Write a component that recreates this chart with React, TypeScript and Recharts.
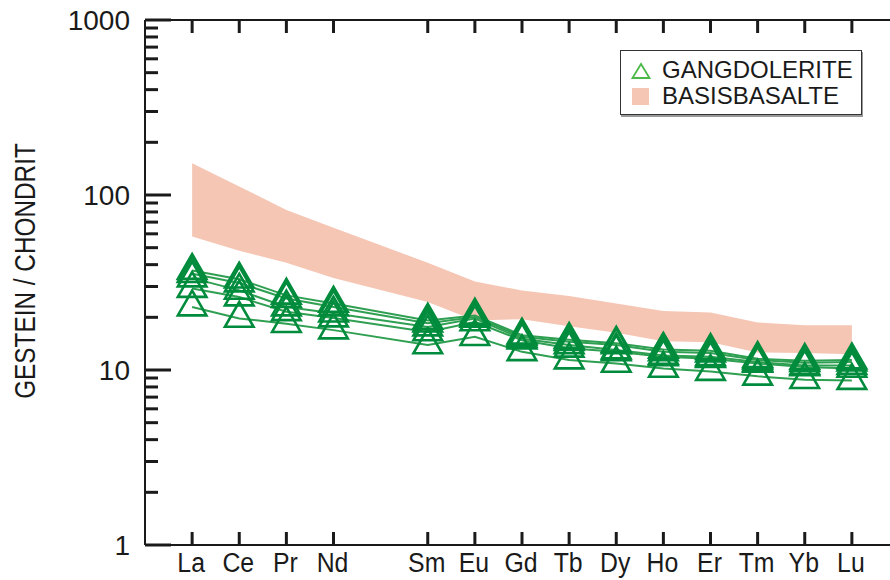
import {
  ComposedChart,
  Line,
  Area,
  XAxis,
  YAxis,
  Legend,
} from 'recharts';

// REE order, Pm (position 4) is left out as a gap
const elements = ['La', 'Ce', 'Pr', 'Nd', 'Sm', 'Eu', 'Gd', 'Tb', 'Dy', 'Ho', 'Er', 'Tm', 'Yb', 'Lu'];
const positions = [0, 1, 2, 3, 5, 6, 7, 8, 9, 10, 11, 12, 13, 14];

// Gangdolerite samples (chondrite normalised)
const sample1 = [37, 33, 26.7, 24, 19.2, 20.5, 15.8, 14.9, 14.2, 13.1, 12.9, 11.6, 11.3, 11.4];
const sample2 = [35.5, 31.4, 25.6, 22.9, 18.5, 20.1, 15.5, 14.5, 13.9, 12.7, 12.5, 11.4, 11.0, 11.1];
const sample3 = [33.5, 28.5, 22.9, 21.1, 17.6, 19.7, 15.1, 13.9, 13.0, 12.1, 11.9, 11.1, 10.6, 10.6];
const sample4 = [29.2, 26.1, 21.5, 19.8, 16.5, 18.8, 14.8, 13.3, 12.7, 11.9, 11.6, 10.9, 10.4, 10.2];
const sample5 = [22.9, 19.7, 18.4, 16.9, 13.9, 15.5, 12.7, 11.4, 10.9, 10.2, 9.8, 9.2, 8.8, 8.7];

// Basisbasalte range
const basaltLow = [58, 48, 41, 33.5, 24.5, 19.2, 19.5, 17.8, 16.3, 14.6, 14.4, 12.6, 12.5, 12.3];
const basaltHigh = [152, 112, 82, 65, 41, 32, 28.5, 26.5, 24, 21.7, 21.3, 18.7, 18, 18];

const yTicks = [
  1, 2, 3, 4, 5, 6, 7, 8, 9,
  10, 20, 30, 40, 50, 60, 70, 80, 90,
  100, 200, 300, 400, 500, 600, 700, 800, 900,
  1000,
];

const legendItems = ['GANGDOLERITE', 'BASISBASALTE'];

const samples = [sample1, sample2, sample3, sample4, sample5];

const data = elements.map((el, i) => ({
  x: positions[i],
  el,
  s1: sample1[i],
  s2: sample2[i],
  s3: sample3[i],
  s4: sample4[i],
  s5: sample5[i],
  band: [basaltLow[i], basaltHigh[i]],
}));

const FONT = '"Liberation Sans", Arial, sans-serif';
const AXIS = '#1a1a1a';
const MARKER = '#008c3c';
const LINE = '#2f9f52';
const BAND = '#f5c6b4';

const isMajor = (v: number) => Math.abs(Math.log10(v) - Math.round(Math.log10(v))) < 1e-9;

const BottomTick = (props: any) => {
  const { x, y, payload } = props;
  const idx = positions.indexOf(payload.value);
  return (
    <g>
      <line x1={x} x2={x} y1={y} y2={y - 13} stroke={AXIS} strokeWidth={3} />
      <text
        transform={`translate(${x - 1},${y + 27}) scale(0.92,1)`}
        textAnchor="middle"
        fontSize={27}
        fontFamily={FONT}
        fill="#1a1a1a"
      >
        {elements[idx]}
      </text>
    </g>
  );
};

const TopTick = (props: any) => {
  const { x, y } = props;
  return <line x1={x} x2={x} y1={y} y2={y + 13} stroke={AXIS} strokeWidth={3} />;
};

const LeftTick = (props: any) => {
  const { x, y, payload } = props;
  const major = isMajor(payload.value);
  return (
    <g>
      <line x1={x} x2={x + (major ? 26 : 13)} y1={y} y2={y} stroke={AXIS} strokeWidth={3} />
      {major && (
        <text x={x - 15} y={y} dy={10} textAnchor="end" fontSize={28} fontFamily={FONT} fill="#1a1a1a">
          {payload.value}
        </text>
      )}
    </g>
  );
};

const RightTick = (props: any) => {
  const { x, y, payload } = props;
  const major = isMajor(payload.value);
  return <line x1={x} x2={x - (major ? 26 : 13)} y1={y} y2={y} stroke={AXIS} strokeWidth={3} />;
};

const TriangleDot = (props: any) => {
  const { cx, cy, key } = props;
  if (cx == null || cy == null) return <g key={key} />;
  const pts = `${cx},${cy - 16.5} ${cx - 14.3},${cy + 8.3} ${cx + 14.3},${cy + 8.3}`;
  return <polygon key={key} points={pts} fill="none" stroke={MARKER} strokeWidth={2.6} />;
};

const YTitle = () => (
  <text
    transform="translate(35,271) rotate(-90) scale(0.84,1)"
    textAnchor="middle"
    fontSize={29}
    fontFamily={FONT}
    fill="#1a1a1a"
  >
    GESTEIN / CHONDRIT
  </text>
);

const LegendBox = () => (
  <div
    style={{
      width: 242,
      height: 65,
      border: '1.5px solid #333',
      boxShadow: '1px 2px 0 #999',
      background: '#fff',
      fontFamily: FONT,
      fontSize: 24,
      color: '#1a1a1a',
      boxSizing: 'border-box',
      position: 'relative',
    }}
  >
    <svg width={20} height={20} style={{ position: 'absolute', left: 10, top: 11 }}>
      <polygon points="10,2 1.5,16 18.5,16" fill="none" stroke="#4cb848" strokeWidth={1.8} />
    </svg>
    <div style={{ position: 'absolute', left: 11, top: 37, width: 17, height: 17, background: BAND }} />
    <div style={{ position: 'absolute', left: 41, top: 5, lineHeight: '28px' }}>{legendItems[0]}</div>
    <div style={{ position: 'absolute', left: 41, top: 31, lineHeight: '28px' }}>{legendItems[1]}</div>
  </div>
);

export default function App() {
  return (
    <div style={{ width: 890, height: 580, overflow: 'hidden', position: 'relative' }}>
      <style>{`body { margin: 0; }`}</style>
      <ComposedChart
        width={900}
        height={580}
        data={data}
        margin={{ top: 0, right: 1, bottom: 0, left: 0 }}
      >
        <XAxis
          xAxisId="b"
          type="number"
          dataKey="x"
          domain={[-1, 15]}
          ticks={positions}
          interval={0}
          allowDataOverflow
          height={35}
          tickSize={0}
          tickMargin={0}
          tickLine={false}
          axisLine={{ stroke: AXIS, strokeWidth: 2 }}
          tick={<BottomTick />}
        />
        <XAxis
          xAxisId="t"
          orientation="top"
          type="number"
          dataKey="x"
          domain={[-1, 15]}
          ticks={positions}
          interval={0}
          allowDataOverflow
          height={20}
          tickSize={0}
          tickMargin={0}
          tickLine={false}
          axisLine={{ stroke: AXIS, strokeWidth: 2 }}
          tick={<TopTick />}
        />
        <YAxis
          yAxisId="l"
          scale="log"
          domain={[1, 1000]}
          ticks={yTicks}
          interval={0}
          allowDataOverflow
          width={145}
          tickSize={0}
          tickMargin={0}
          tickLine={false}
          axisLine={{ stroke: AXIS, strokeWidth: 2 }}
          tick={<LeftTick />}
          label={{ content: () => <YTitle /> }}
        />
        <YAxis
          yAxisId="r"
          orientation="right"
          scale="log"
          domain={[1, 1000]}
          ticks={yTicks}
          interval={0}
          allowDataOverflow
          width={0}
          tickSize={0}
          tickMargin={0}
          tickLine={false}
          axisLine={{ stroke: AXIS, strokeWidth: 2 }}
          tick={<RightTick />}
        />
        <Legend
          layout="vertical"
          align="center"
          verticalAlign="middle"
          wrapperStyle={{ left: 620, top: 50, width: 242, height: 65 }}
          content={() => <LegendBox />}
        />
        <Area
          xAxisId="b"
          yAxisId="l"
          type="linear"
          dataKey="band"
          stroke="none"
          fill={BAND}
          fillOpacity={1}
          isAnimationActive={false}
          legendType="none"
        />
        {samples.map((_, i) => (
          <Line
            key={i}
            xAxisId="b"
            yAxisId="l"
            type="linear"
            dataKey={`s${i + 1}`}
            stroke={LINE}
            strokeWidth={2}
            dot={TriangleDot}
            activeDot={false}
            isAnimationActive={false}
          />
        ))}
      </ComposedChart>
    </div>
  );
}
